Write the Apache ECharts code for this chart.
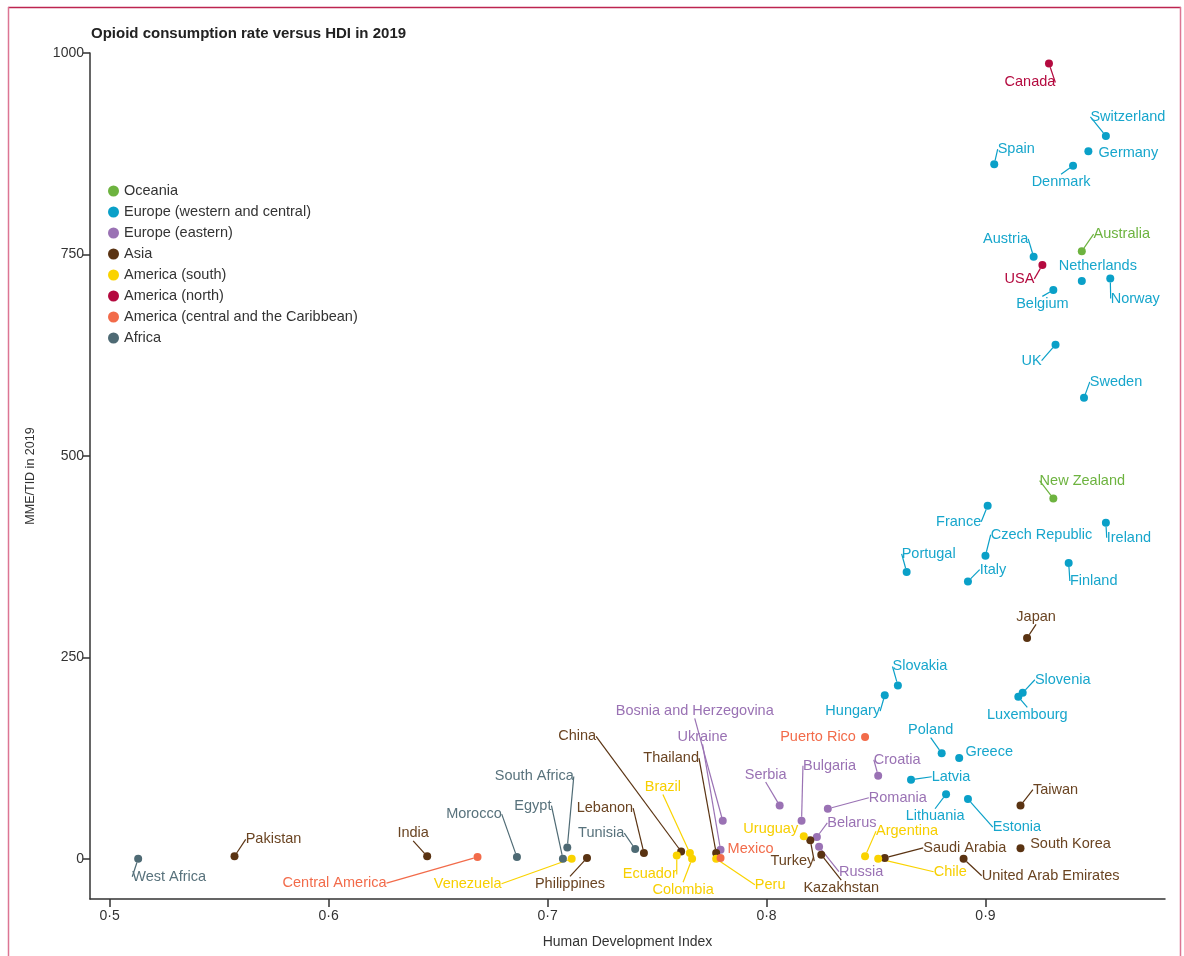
<!DOCTYPE html>
<html>
<head>
<meta charset="utf-8">
<script src="https://cdn.jsdelivr.net/npm/echarts@6/dist/echarts.min.js"></script>
<style>
  html, body { margin: 0; padding: 0; background: #fff; }
  #chart { width: 1184px; height: 956px; }
</style>
</head>
<body>
<div id="chart"></div>
<script>
// ---------------- DATA ----------------
const regionNames = [
  'Oceania',
  'Europe (western and central)',
  'Europe (eastern)',
  'Asia',
  'America (south)',
  'America (north)',
  'America (central and the Caribbean)',
  'Africa'
];

// [country, HDI, MME/TID]
const oceania = [
  ['Australia', 0.944, 754],
  ['New Zealand', 0.931, 447]
];
const europeWestCentral = [
  ['Switzerland', 0.955, 897],
  ['Spain', 0.904, 862],
  ['Germany', 0.947, 878],
  ['Denmark', 0.940, 860],
  ['Austria', 0.922, 747],
  ['Netherlands', 0.944, 717],
  ['Norway', 0.957, 720],
  ['Belgium', 0.931, 706],
  ['UK', 0.932, 638],
  ['Sweden', 0.945, 572],
  ['France', 0.901, 438],
  ['Ireland', 0.955, 417],
  ['Czech Republic', 0.900, 376],
  ['Portugal', 0.864, 356],
  ['Italy', 0.892, 344],
  ['Finland', 0.938, 367],
  ['Slovakia', 0.860, 215],
  ['Slovenia', 0.917, 206],
  ['Luxembourg', 0.915, 201],
  ['Hungary', 0.854, 203],
  ['Poland', 0.880, 131],
  ['Greece', 0.888, 125],
  ['Latvia', 0.866, 98],
  ['Lithuania', 0.882, 80],
  ['Estonia', 0.892, 74]
];
const europeEastern = [
  ['Croatia', 0.851, 103],
  ['Serbia', 0.806, 66],
  ['Bulgaria', 0.816, 47],
  ['Romania', 0.828, 62],
  ['Belarus', 0.823, 27],
  ['Russia', 0.824, 15],
  ['Ukraine', 0.779, 11],
  ['Bosnia and Herzegovina', 0.780, 47]
];
const asia = [
  ['Japan', 0.919, 274],
  ['Taiwan', 0.916, 66],
  ['South Korea', 0.916, 13],
  ['Turkey', 0.820, 23],
  ['Kazakhstan', 0.825, 5],
  ['Saudi Arabia', 0.854, 1],
  ['United Arab Emirates', 0.890, 0],
  ['Thailand', 0.777, 7],
  ['China', 0.761, 9],
  ['Lebanon', 0.744, 7],
  ['Philippines', 0.718, 1],
  ['India', 0.645, 3],
  ['Pakistan', 0.557, 3]
];
const americaSouth = [
  ['Uruguay', 0.817, 28],
  ['Argentina', 0.845, 3],
  ['Chile', 0.851, 0],
  ['Peru', 0.777, 0],
  ['Brazil', 0.765, 7],
  ['Ecuador', 0.759, 4],
  ['Colombia', 0.766, 0],
  ['Venezuela', 0.711, 0]
];
const americaNorth = [
  ['Canada', 0.929, 987],
  ['USA', 0.926, 737]
];
const americaCentral = [
  ['Puerto Rico', 0.845, 151],
  ['Mexico', 0.779, 1],
  ['Central America', 0.668, 2]
];
const africa = [
  ['Tunisia', 0.740, 12],
  ['South Africa', 0.709, 14],
  ['Egypt', 0.707, 0],
  ['Morocco', 0.686, 2],
  ['West Africa', 0.513, 0]
];

const xTicks = [0.5, 0.6, 0.7, 0.8, 0.9];
const yTicks = [0, 250, 500, 750, 1000];

// ---------------- LAYOUT / STYLE (not data) ----------------
const regionSets = [oceania, europeWestCentral, europeEastern, asia, americaSouth, americaNorth, americaCentral, africa];
const dotColors = ['#6db33f', '#0aa0c8', '#9a72b4', '#5a3312', '#fad300', '#b40a3f', '#f26b4a', '#4e6a74'];
const textColors = ['#6db33f', '#17a6cc', '#9a72b4', '#6a4422', '#f7cf00', '#b40a3f', '#f26b4a', '#58727c'];

// label centre offset from the dot, in pixels
const labelOffsets = {
  'Canada': [-19, 19], 'Switzerland': [22, -19], 'Spain': [22, -15], 'Germany': [40, 2],
  'Denmark': [-12, 16], 'Austria': [-28, -18], 'Australia': [40, -17], 'USA': [-23, 14],
  'Netherlands': [16, -15], 'Norway': [25, 20], 'Belgium': [-11, 14], 'UK': [-24, 16],
  'Sweden': [32, -16], 'New Zealand': [29, -18], 'France': [-29, 16], 'Ireland': [23, 15],
  'Czech Republic': [56, -21], 'Portugal': [22, -18], 'Italy': [25, -12], 'Finland': [25, 18],
  'Japan': [9, -21], 'Slovakia': [22, -19], 'Slovenia': [40, -13], 'Luxembourg': [9, 18],
  'Hungary': [-32, 16], 'Puerto Rico': [-47, 0], 'Poland': [-11, -23], 'Greece': [30, -6],
  'Croatia': [19, -16], 'Latvia': [40, -3], 'Serbia': [-14, -31], 'Bulgaria': [28, -55],
  'Romania': [70, -11], 'Lithuania': [-11, 22], 'Estonia': [49, 28], 'Taiwan': [35, -16],
  'Uruguay': [-33, -7], 'Belarus': [35, -14], 'Turkey': [-18, 21], 'Russia': [42, 25],
  'Kazakhstan': [20, 33], 'Argentina': [42, -25], 'Chile': [72, 13], 'Saudi Arabia': [80, -10],
  'United Arab Emirates': [87, 17], 'South Korea': [50, -4], 'Mexico': [30, -9], 'Peru': [54, 26],
  'Thailand': [-45, -95], 'Ukraine': [-18, -113], 'Bosnia and Herzegovina': [-28, -110],
  'China': [-104, -115], 'Brazil': [-27, -66], 'Ecuador': [-27, 19], 'Colombia': [-9, 31],
  'Lebanon': [-39, -45], 'Tunisia': [-34, -16], 'South Africa': [-33, -71], 'Egypt': [-30, -53],
  'Venezuela': [-104, 25], 'Philippines': [-17, 26], 'Morocco': [-43, -43], 'West Africa': [31, 18],
  'Pakistan': [39, -17], 'India': [-14, -23], 'Central America': [-143, 26]
};
const noLine = new Set(['Germany', 'Netherlands', 'Puerto Rico', 'Greece', 'South Korea', 'Mexico', 'Uruguay']);

const FONT = 'Liberation Sans';
const AXIS_COLOR = '#333333';

const series = regionSets.map((set, si) => ({
  name: regionNames[si],
  type: 'scatter',
  symbol: 'circle',
  symbolSize: 8,
  z: 3,
  itemStyle: { color: dotColors[si], opacity: 1 },
  label: {
    show: true,
    formatter: '{b}',
    color: textColors[si],
    fontFamily: FONT,
    fontSize: 14.5,
    padding: [1, 3]
  },
  labelLine: {
    show: true,
    lineStyle: { color: dotColors[si], width: 1.2, opacity: 1 }
  },
  emphasis: { disabled: true },
  labelLayout: function (p) {
    const nm = set[p.dataIndex][0];
    const off = labelOffsets[nm] || [0, -14];
    return {
      x: p.rect.x + p.rect.width / 2 + off[0],
      y: p.rect.y + p.rect.height / 2 + off[1],
      align: 'center',
      verticalAlign: 'middle'
    };
  },
  data: set.map(d => ({
    name: d[0],
    value: [d[1], d[2]],
    labelLine: noLine.has(d[0]) ? { show: false } : undefined
  }))
}));

const chart = echarts.init(document.getElementById('chart'), null, { renderer: 'canvas' });
chart.setOption({
  animation: false,
  backgroundColor: '#ffffff',
  textStyle: { fontFamily: FONT },
  title: {
    text: 'Opioid consumption rate versus HDI in 2019',
    left: 86,
    top: 21,
    textStyle: { fontFamily: FONT, fontSize: 15, fontWeight: 'bold', color: '#222222' }
  },
  legend: {
    orient: 'vertical',
    left: 103,
    top: 178,
    icon: 'circle',
    itemWidth: 11,
    itemHeight: 11,
    itemGap: 5,
    selectedMode: false,
    data: regionNames,
    textStyle: { fontFamily: FONT, fontSize: 14.5, color: '#333333', lineHeight: 16 }
  },
  grid: { left: 90, right: 19, top: 53, bottom: 57, containLabel: false },
  xAxis: {
    type: 'value',
    min: 0.491,
    max: 0.982,
    name: 'Human Development Index',
    nameLocation: 'middle',
    nameGap: 36,
    nameTextStyle: { fontFamily: FONT, fontSize: 14, color: '#333333' },
    splitLine: { show: false },
    axisLine: { show: true, onZero: false, lineStyle: { color: AXIS_COLOR, width: 1.5 } },
    axisTick: { show: true, length: 8, customValues: xTicks, lineStyle: { color: AXIS_COLOR, width: 1.5 } },
    axisLabel: {
      customValues: xTicks,
      fontFamily: FONT, fontSize: 14, color: '#333333', margin: 10,
      formatter: v => v.toFixed(1).replace('.', '\u00b7')
    }
  },
  yAxis: {
    type: 'value',
    min: -50,
    max: 1000,
    name: 'MME/TID in 2019',
    nameLocation: 'middle',
    nameGap: 53,
    nameTextStyle: { fontFamily: FONT, fontSize: 12.5, color: '#333333' },
    splitLine: { show: false },
    axisLine: { show: true, onZero: false, lineStyle: { color: AXIS_COLOR, width: 1.5 } },
    axisTick: { show: true, length: 7, customValues: yTicks, lineStyle: { color: AXIS_COLOR, width: 1.5 } },
    axisLabel: {
      customValues: yTicks,
      fontFamily: FONT, fontSize: 14, color: '#333333', margin: 6,
      formatter: v => String(v)
    }
  },
  graphic: [
    { type: 'line', shape: { x1: 8, y1: 7.5, x2: 1181, y2: 7.5 }, style: { stroke: '#bd2450', lineWidth: 1.5 }, silent: true },
    { type: 'line', shape: { x1: 8.5, y1: 7, x2: 8.5, y2: 956 }, style: { stroke: '#dc7593', lineWidth: 1.5 }, silent: true },
    { type: 'line', shape: { x1: 1180.5, y1: 7, x2: 1180.5, y2: 956 }, style: { stroke: '#dc7593', lineWidth: 1.5 }, silent: true }
  ],
  series: series
});
</script>
</body>
</html>
